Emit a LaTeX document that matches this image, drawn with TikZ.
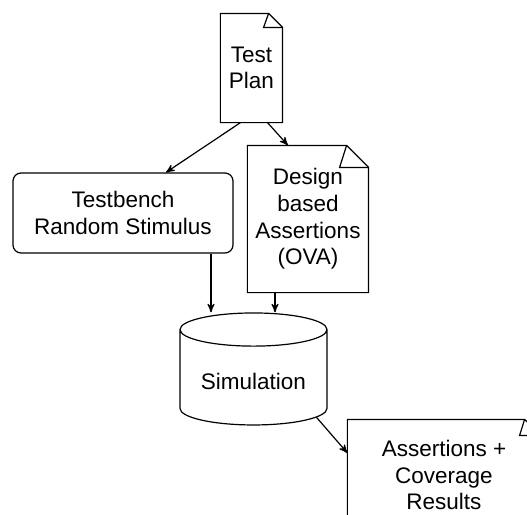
\documentclass[tikz,border=0pt]{standalone}
\usepackage{fontspec}
\setmainfont{Liberation Sans}
\usetikzlibrary{arrows,shapes.geometric}

% page outline with a folded top right corner: node, fold, skew
\newcommand{\docpage}[3]{%
	\draw (#1.north west) -- ([xshift=-#2]#1.north east) -- ([yshift=-#2]#1.north east)
		-- (#1.south east) -- (#1.south west) -- cycle;
	\draw ([xshift=-#2]#1.north east) -- ([xshift=-#2-#3,yshift=-#2]#1.north east)
		-- ([yshift=-#2]#1.north east);
}

\tikzset{
	doc/.style={rectangle, align=center, inner sep=2pt},
	bench/.style={rectangle, draw, rounded corners=4pt, align=center},
	tank/.style={cylinder, draw, shape border rotate=90, aspect=0.28, align=center},
}

\begin{document}
\begin{tikzpicture}[>=stealth', x=0.5pt, y=-0.5pt, line width=0.6pt,
	font=\fontsize{11.25pt}{13.3pt}\selectfont]
	\useasboundingbox (0,0) rectangle (527,515);
	\clip (0,0) rectangle (527,515);

	% Nodes {plan, design, bench, sim, res}
	\node [doc, minimum width=30.5pt, minimum height=54pt]	(plan)   at (251.5,68)  {Test\\Plan};
	\node [doc, minimum width=60pt, minimum height=73pt]	(design) at (308,219)   {Design\\based\\Assertions\\(OVA)};
	\node [bench, minimum width=110pt, minimum height=40pt]	(bench)  at (123,213)   {Testbench\\Random Stimulus};
	\node [tank, minimum width=73.5pt, minimum height=56pt]	(sim)    at (253.5,381) {Simulation};
	\node [doc, minimum width=96pt, minimum height=55pt]	(res)    at (444,475)   {Assertions +\\Coverage\\Results};

	% Pages
	\docpage{plan}{7pt}{2.5pt}
	\docpage{design}{11pt}{3.5pt}
	\docpage{res}{8pt}{2.5pt}

	% Paths
	\draw [->] ([xshift=-5.5pt]plan.south)   -- ([xshift=21.5pt]bench.north);
	\draw [->] ([xshift=8pt]plan.south)      -- ([xshift=-10pt]design.north);
	\draw [->] ([xshift=44pt]bench.south)    -- ([xshift=44pt]bench.south |- sim.north);
	\draw [->] ([xshift=-16.5pt]design.south) -- ([xshift=-16.5pt]design.south |- sim.north);
	\draw [->] (sim.-30) -- ([yshift=11pt]res.west);
\end{tikzpicture}
\end{document}
